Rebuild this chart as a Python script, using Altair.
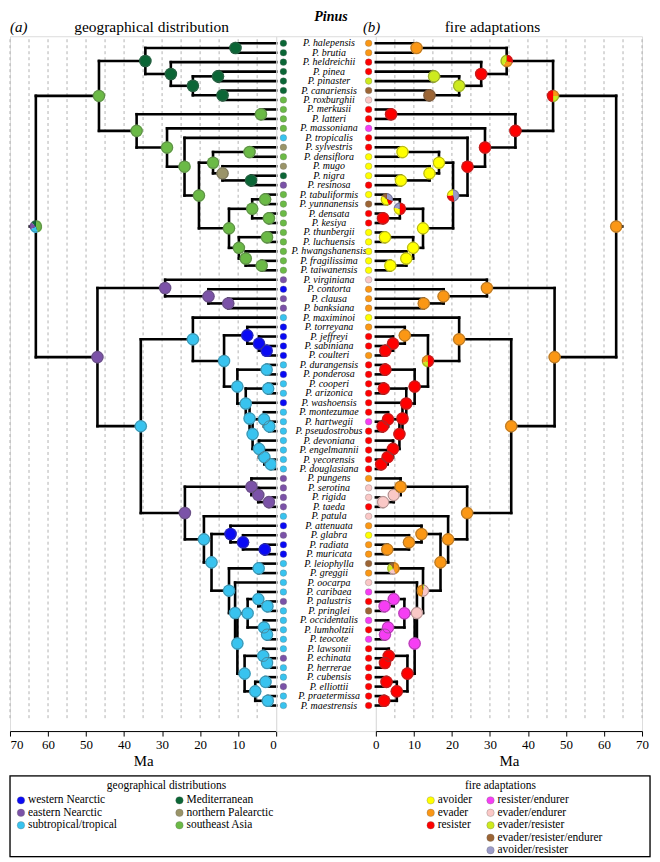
import math
import altair as alt
import pandas as pd

# ---------------- data ----------------
tips = ["halepensis", "brutia", "heldreichii", "pinea", "pinaster", "canariensis", "roxburghii",
        "merkusii", "latteri", "massoniana", "tropicalis", "sylvestris", "densiflora", "mugo", "nigra",
        "resinosa", "tabuliformis", "yunnanensis", "densata", "kesiya", "thunbergii", "luchuensis",
        "hwangshanensis", "fragilissima", "taiwanensis", "virginiana", "contorta", "clausa", "banksiana",
        "maximinoi", "torreyana", "jeffreyi", "sabiniana", "coulteri", "durangensis", "ponderosa", "cooperi",
        "arizonica", "washoensis", "montezumae", "hartwegii", "pseudostrobus", "devoniana", "engelmannii",
        "yecorensis", "douglasiana", "pungens", "serotina", "rigida", "taeda", "patula", "attenuata", "glabra",
        "radiata", "muricata", "leiophylla", "greggii", "oocarpa", "caribaea", "palustris", "pringlei",
        "occidentalis", "lumholtzii", "teocote", "lawsonii", "echinata", "herrerae", "cubensis", "elliottii",
        "praetermissa", "maestrensis"]

tip_geo = ["Med", "Med", "Med", "Med", "Med", "Med", "SEA",
           "SEA", "SEA", "SEA", "sub", "nP", "SEA", "nP", "Med",
           "eN", "SEA", "SEA", "SEA", "SEA", "SEA", "SEA", "SEA", "SEA", "SEA",
           "eN", "wN", "eN", "eN", "sub",
           "wN", "wN", "wN", "wN", "sub", "wN", "sub", "sub", "wN",
           "sub", "sub", "sub", "sub", "sub", "sub", "sub",
           "eN", "eN", "eN", "eN", "sub",
           "wN", "eN", "wN", "wN", "sub", "sub", "sub",
           "sub", "eN", "sub", "sub", "sub", "sub", "sub", "eN", "sub",
           "sub", "eN", "sub", "sub"]

tip_fire = ["ev", "ev", "re", "re", "evre", "ere", "eend",
            "re", "re", "rend", "re", "re", "av", "av", "av",
            "re", "av", "ere", "re", "re", "av", "av", "av", "av", "av",
            "eend", "ev", "ev", "ev", "av",
            "ev", "re", "re", "ev", "re", "re", "re", "re", "re",
            "re", "rend", "re", "re", "re", "re", "re",
            "ev", "eend", "eend", "re", "eend",
            "ev", "av", "ev", "ev", "ere", "ev", "eend",
            "rend", "re", "ere", "rend", "re", "rend", "re", "re", "re",
            "re", "re", "re", "re"]

# internal nodes: (name, child 1, child 2, age in Ma)
tree_nodes = [
    ("A", "halepensis", "brutia", 10.7), ("D", "pinea", "pinaster", 15.3),
    ("E", "canariensis", "roxburghii", 14.1), ("C", "D", "E", 21.9),
    ("B", "heldreichii", "C", 27.7), ("F", "A", "B", 34.4),
    ("I", "merkusii", "latteri", 4.0), ("N", "sylvestris", "densiflora", 7.0),
    ("P", "nigra", "resinosa", 6.6), ("O", "mugo", "P", 14.1), ("M", "N", "O", 16.6),
    ("T", "tabuliformis", "yunnanensis", 2.9), ("U", "densata", "kesiya", 1.9),
    ("R", "T", "U", 6.3), ("V", "thunbergii", "luchuensis", 2.4),
    ("X", "fragilissima", "taiwanensis", 3.8), ("W", "hwangshanensis", "X", 8.0),
    ("S", "V", "W", 9.8), ("Q", "R", "S", 12.4), ("L", "M", "Q", 20.3),
    ("K", "tropicalis", "L", 24.1), ("J", "massoniana", "K", 28.7),
    ("H", "I", "J", 36.7), ("G", "F", "H", 46.6),
    ("AC", "clausa", "banksiana", 12.6), ("AB", "contorta", "AC", 17.8),
    ("Z", "virginiana", "AB", 29.2),
    ("AJ", "sabiniana", "coulteri", 2.5), ("AI", "jeffreyi", "AJ", 4.5),
    ("AG", "torreyana", "AI", 7.6), ("AK", "durangensis", "ponderosa", 2.5),
    ("AM", "cooperi", "arizonica", 2.1), ("AS", "hartwegii", "pseudostrobus", 1.8),
    ("AQ", "montezumae", "AS", 3.2), ("AU", "yecorensis", "douglasiana", 1.4),
    ("AT", "engelmannii", "AU", 3.1), ("AR", "devoniana", "AT", 4.5),
    ("AO", "AQ", "AR", 6.2), ("AN", "washoensis", "AO", 7.0),
    ("AL", "AM", "AN", 8.0), ("AH", "AK", "AL", 10.2), ("AF", "AG", "AH", 13.7),
    ("AD", "maximinoi", "AF", 21.9),
    ("AX", "rigida", "taeda", 1.9), ("AY", "serotina", "AX", 4.7), ("AV", "pungens", "AY", 6.5),
    ("BB", "radiata", "muricata", 3.0), ("BA", "glabra", "BB", 8.7), ("BC", "attenuata", "BA", 12.0),
    ("LG", "leiophylla", "greggii", 4.6), ("BJ", "palustris", "pringlei", 2.3),
    ("BI", "caribaea", "BJ", 4.7), ("BK2", "lumholtzii", "teocote", 2.4),
    ("BK", "occidentalis", "BK2", 3.2), ("BG", "BI", "BK", 7.5),
    ("BM2", "echinata", "herrerae", 2.4), ("BM", "lawsonii", "BM2", 3.4),
    ("BN1", "cubensis", "elliottii", 2.8), ("BN2", "praetermissa", "maestrensis", 2.2),
    ("BN", "BN1", "BN2", 5.5), ("BL", "BM", "BN", 8.3), ("BH", "BG", "BL", 10.2),
    ("BF", "oocarpa", "BH", 10.8), ("BE", "LG", "BF", 12.4), ("AZ", "BC", "BE", 17.0),
    ("AW", "patula", "AZ", 19.0), ("AE", "AV", "AW", 24.0), ("AA", "AD", "AE", 35.6),
    ("Y", "Z", "AA", 47.0), ("root", "G", "Y", 63.2),
]

node_geo = {
    "A": "Med", "B": "Med", "C": "Med", "D": "Med", "E": "Med", "F": "Med",
    "G": "SEA", "H": "SEA", "I": "SEA", "J": "SEA", "K": "SEA", "L": "SEA", "M": "SEA", "N": "SEA",
    "O": "nP", "P": "Med", "Q": "SEA", "R": "SEA", "T": "SEA", "U": "SEA", "S": "SEA", "V": "SEA",
    "W": "SEA", "X": "SEA", "root": "SEA:0.45|sub:0.22|eN:0.2|Med:0.13",
    "Y": "eN", "Z": "eN", "AB": "eN", "AC": "eN", "AA": "sub", "AD": "sub", "AF": "sub",
    "AG": "wN", "AI": "wN", "AJ": "wN", "AH": "sub", "AK": "sub", "AL": "sub", "AM": "sub",
    "AN": "sub", "AO": "sub", "AQ": "sub", "AS": "sub", "AR": "sub", "AT": "sub", "AU": "sub",
    "AE": "eN", "AV": "eN", "AY": "eN", "AX": "eN", "AW": "sub", "AZ": "sub",
    "BC": "wN", "BA": "wN", "BB": "wN", "BE": "sub", "LG": "sub", "BF": "sub", "BH": "sub",
    "BG": "sub", "BI": "sub", "BJ": "sub", "BK": "sub", "BK2": "sub", "BL": "sub", "BM": "sub",
    "BM2": "sub", "BN": "sub", "BN1": "sub", "BN2": "sub",
}

node_fire = {
    "A": "ev", "B": "re", "C": "evre", "D": "evre", "E": "ere",
    "F": "re:0.3|ev:0.3|evre:0.4", "G": "ev:0.25|evre:0.25|re:0.5",
    "H": "re", "I": "re", "J": "re", "K": "re", "L": "avre:0.47|re:0.28|av:0.25",
    "M": "av", "N": "av", "O": "av", "P": "av", "Q": "av",
    "R": "re:0.5|av:0.28|avre:0.22", "T": "avre:0.3|re:0.15|av:0.4|ere:0.15",
    "U": "re", "S": "av", "V": "av", "W": "av", "X": "av", "root": "ev",
    "Y": "ev", "Z": "ev", "AB": "ev", "AC": "ev", "AA": "ev", "AD": "ev",
    "AF": "re:0.5|evre:0.2|ev:0.3", "AG": "ev", "AI": "re", "AJ": "re", "AH": "re", "AK": "re",
    "AL": "re", "AM": "re", "AN": "re", "AO": "re", "AQ": "re", "AS": "re", "AR": "re",
    "AT": "re", "AU": "re", "AE": "ev", "AV": "ev", "AY": "eend", "AX": "eend",
    "AW": "ev", "AZ": "ev", "BC": "ev", "BA": "ev", "BB": "ev",
    "BE": "evre:0.04|eend:0.49|ev:0.44|ere:0.03", "LG": "ev:0.44|eend:0.2|evre:0.25|ere:0.11",
    "BF": "eend", "BH": "rend", "BG": "rend", "BI": "rend", "BJ": "rend", "BK": "rend",
    "BK2": "rend", "BL": "re", "BM": "re", "BM2": "re", "BN": "re", "BN1": "re", "BN2": "re",
}

geo_colors = {"wN": "#0a0af5", "eN": "#7b52a8", "sub": "#38c3ef", "Med": "#0b6636",
              "nP": "#9a9468", "SEA": "#6bba46"}
fire_colors = {"av": "#ffff00", "ev": "#fb9714", "re": "#ff0000", "rend": "#f63ef4",
               "eend": "#fac8c6", "evre": "#cdea1e", "ere": "#9c6535", "avre": "#9b9bc9"}

geo_legend = ["western Nearctic", "eastern Nearctic", "subtropical/tropical",
              "Mediterranean", "northern Palearctic", "southeast Asia"]
geo_legend_codes = ["wN", "eN", "sub", "Med", "nP", "SEA"]
fire_legend = ["avoider", "evader", "resister", "resister/endurer", "evader/endurer",
               "evader/resister", "evader/resister/endurer", "avoider/resister"]
fire_legend_codes = ["av", "ev", "re", "rend", "eend", "evre", "ere", "avre"]

ma_ticks = [0, 10, 20, 30, 40, 50, 60, 70]
grid_ma = [5, 10, 15, 20, 25, 30, 35, 40, 45, 50, 55, 60, 65, 70]

# ---------------- layout constants ----------------
FONT = "Liberation Serif"
PW, MW, H = 267, 100, 697
ys = alt.Scale(domain=[-0.74, 72.70], reverse=True, nice=False, zero=False)
R_NODE = 6.3
TIP_X = -1.9

# ---------------- derived tables ----------------
children = {n: (c1, c2) for n, c1, c2, a in tree_nodes}
ages = {n: a for n, c1, c2, a in tree_nodes}
ypos = {t: float(i) for i, t in enumerate(tips)}


def gy(n):
    if n not in ypos:
        c1, c2 = children[n]
        ypos[n] = (gy(c1) + gy(c2)) / 2.0
    return ypos[n]


edge_rows = []
for n, (c1, c2) in children.items():
    a = ages[n]
    edge_rows.append(dict(x=a, x2=a, y=gy(c1), y2=gy(c2)))
    for c in (c1, c2):
        edge_rows.append(dict(x=a, x2=ages.get(c, 0.0), y=gy(c), y2=gy(c)))
edge_rows.append(dict(x=ages["root"], x2=ages["root"] + 1.6, y=gy("root"), y2=gy("root")))
edges_df = pd.DataFrame(edge_rows)

grid_df = pd.DataFrame({"ma": grid_ma, "y0": -0.42, "y1": 71.5})
nodes_df = pd.DataFrame({"x": [ages[n] for n in children], "y": [gy(n) for n in children]})


def arcs_table(states, palette):
    rows = []
    for n in children:
        parts = []
        for p in states[n].split("|"):
            if ":" in p:
                c, f = p.split(":")
                parts.append((c, float(f)))
            else:
                parts.append((p, 1.0))
        tot = sum(f for _, f in parts)
        a0 = 0.0
        for c, f in parts:
            a1 = a0 + 2 * math.pi * f / tot
            rows.append(dict(x=ages[n], y=gy(n), a0=a0, a1=a1, col=palette[c]))
            a0 = a1
    return pd.DataFrame(rows)


def side_chart(reverse, states, palette, tip_states, head_tag, head_txt, tag_x, txt_x, flush):
    xs = alt.Scale(domain=[0, 70], reverse=reverse, nice=False, zero=False)
    ax = alt.Axis(values=ma_ticks, title="Ma", grid=False, labelFont=FONT, titleFont=FONT,
                  labelFontSize=13, titleFontSize=15, titleFontWeight="normal",
                  labelColor="black", titleColor="black", domainColor="black", tickColor="black",
                  tickSize=5, labelPadding=2, titlePadding=3, labelFlush=flush)
    X = lambda f: alt.X(f, scale=xs, axis=ax)
    Y = lambda f: alt.Y(f, scale=ys, axis=None)

    grid = alt.Chart(grid_df).mark_rule(color="#a0a0a0", strokeWidth=0.8, strokeDash=[3, 3]).encode(
        x=X("ma:Q"), y=Y("y0:Q"), y2="y1:Q")
    edges = alt.Chart(edges_df).mark_rule(color="black", strokeWidth=2.6, strokeCap="square").encode(
        x=X("x:Q"), x2="x2:Q", y=Y("y:Q"), y2="y2:Q")
    arcs = alt.Chart(arcs_table(states, palette)).mark_arc(radius=R_NODE).encode(
        x=X("x:Q"), y=Y("y:Q"),
        theta=alt.Theta("a0:Q", scale=None, stack=False), theta2="a1:Q",
        color=alt.Color("col:N", scale=None))
    outl = alt.Chart(nodes_df).mark_point(shape="circle", filled=False, size=math.pi * R_NODE ** 2,
                                          color="#555555", strokeWidth=0.5, opacity=1).encode(
        x=X("x:Q"), y=Y("y:Q"))
    tip_df = pd.DataFrame({"i": range(len(tips)), "dx": TIP_X,
                           "col": [palette[s] for s in tip_states]})
    dots = alt.Chart(tip_df).mark_circle(size=44, opacity=1, stroke="#666666", strokeWidth=0.3).encode(
        x=X("dx:Q"), y=Y("i:Q"), color=alt.Color("col:N", scale=None))
    heads = pd.DataFrame({"t": [head_tag]})
    tag = alt.Chart(heads).mark_text(font=FONT, fontSize=15, fontStyle="italic", align="left",
                                     baseline="middle", color="black").encode(
        text="t:N", x=alt.value(tag_x), y=alt.value(-9))
    ttl = alt.Chart(pd.DataFrame({"t": [head_txt]})).mark_text(
        font=FONT, fontSize=15.5, align="center", baseline="middle", color="black").encode(
        text="t:N", x=alt.value(txt_x), y=alt.value(-9))
    return alt.layer(grid, edges, arcs, outl, dots, tag, ttl).properties(width=PW, height=H)


left = side_chart(True, node_geo, geo_colors, tip_geo, "(a)", "geographical distribution", 0, 142, True)
right = side_chart(False, node_fire, fire_colors, tip_fire, "(b)", "fire adaptations", -13, 117, False)

lab_df = pd.DataFrame({"i": range(len(tips)), "lab": ["P. " + t for t in tips]})
labels = alt.Chart(lab_df).mark_text(font=FONT, fontSize=10, fontStyle="italic", align="center",
                                     baseline="middle", color="black").encode(
    x=alt.value(53), y=alt.Y("i:Q", scale=ys, axis=None), text="lab:N")
pinus = alt.Chart(pd.DataFrame({"t": ["Pinus"]})).mark_text(
    font=FONT, fontSize=14, fontStyle="italic", fontWeight="bold", align="center", baseline="top",
    color="black").encode(text="t:N", x=alt.value(55), y=alt.value(-26))
mid = alt.layer(labels, pinus).properties(width=MW, height=H)

trees = alt.HConcatChart(hconcat=[left, mid, right], spacing=0, bounds="flush")

# ---------------- legend ----------------
LW, LH = 642, 81
col_x = [11, 170, 422, 482]
row_y = [24.5, 37, 49.5, 62, 74.5]
leg_rows = []
for k, (lab, c) in enumerate(zip(geo_legend, geo_legend_codes)):
    leg_rows.append(dict(lab=lab, col=geo_colors[c], lx=col_x[k // 3], ly=row_y[k % 3]))
for k, (lab, c) in enumerate(zip(fire_legend, fire_legend_codes)):
    cx = col_x[2] if k < 3 else col_x[3]
    ry = row_y[k] if k < 3 else row_y[k - 3]
    leg_rows.append(dict(lab=lab, col=fire_colors[c], lx=cx, ly=ry))
leg_df = pd.DataFrame(leg_rows)
lxs = alt.Scale(domain=[0, LW], nice=False, zero=False)
lys = alt.Scale(domain=[0, LH], reverse=True, nice=False, zero=False)
LX = alt.X("lx:Q", scale=lxs, axis=None)
LY = alt.Y("ly:Q", scale=lys, axis=None)
ldots = alt.Chart(leg_df).mark_circle(size=56, opacity=1, stroke="#666666", strokeWidth=0.3).encode(
    x=LX, y=LY, color=alt.Color("col:N", scale=None))
ltext = alt.Chart(leg_df).mark_text(font=FONT, fontSize=11.5, align="left", baseline="middle", dx=7,
                                    color="black").encode(x=LX, y=LY, text="lab:N")
ltitle_df = pd.DataFrame({"lab": ["geographical distributions", "fire adaptations"],
                          "lx": [157, 492], "ly": [10.5, 10.5]})
ltitles = alt.Chart(ltitle_df).mark_text(font=FONT, fontSize=11.5, align="center", baseline="middle",
                                         color="black").encode(x=LX, y=LY, text="lab:N")
box = alt.Chart(pd.DataFrame({"b": [1]})).mark_rect(fill="transparent", stroke="black",
                                                    strokeWidth=1.3).encode(
    x=alt.value(0), x2=alt.value(LW), y=alt.value(0), y2=alt.value(LH))
legend = alt.layer(box, ldots, ltext, ltitles).properties(width=LW, height=LH)

chart = alt.VConcatChart(vconcat=[trees, legend], spacing=4, padding=0).configure_view(
    strokeWidth=0).configure(font=FONT)

chart.save("out.html", embed_options={"renderer": "svg", "actions": False})
